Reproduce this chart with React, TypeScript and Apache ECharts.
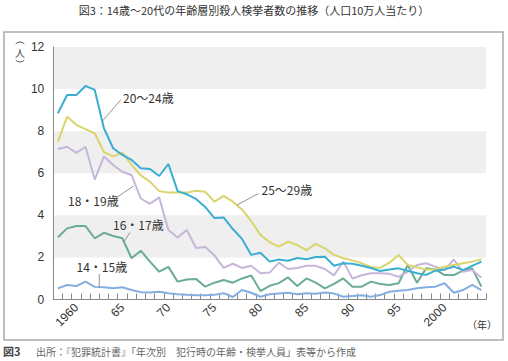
import React, { useEffect, useRef } from "react";
import * as echarts from "echarts";

const years: string[] = [];
for (let y = 1958; y <= 2004; y++) years.push(String(y));

const age20_24 = [8.85, 9.72, 9.72, 10.15, 9.96, 8.14, 7.19, 6.87, 6.63, 6.24, 6.2, 5.87, 6.44, 5.15, 5.0, 4.78, 4.4, 3.87, 3.9, 3.35, 2.88, 2.12, 2.22, 1.8, 1.9, 1.84, 1.97, 1.91, 2.02, 2.03, 1.6, 1.72, 1.7, 1.6, 1.5, 1.35, 1.43, 1.48, 1.37, 1.25, 1.17, 1.37, 1.43, 1.56, 1.4, 1.6, 1.8];
const age25_29 = [7.5, 8.69, 8.3, 8.1, 7.9, 7.0, 6.8, 6.98, 6.4, 5.9, 5.6, 5.15, 5.08, 5.08, 5.08, 5.17, 5.12, 4.65, 4.92, 4.65, 4.28, 3.72, 3.07, 2.72, 2.51, 2.75, 2.59, 2.35, 2.64, 2.43, 2.12, 1.96, 1.86, 1.72, 1.55, 1.5, 1.75, 2.12, 1.64, 1.53, 1.42, 1.43, 1.56, 1.64, 1.72, 1.8, 1.91];
const age18_19 = [7.15, 7.26, 6.97, 7.26, 5.7, 6.8, 6.39, 6.07, 5.92, 4.8, 4.55, 4.85, 3.3, 2.95, 3.3, 2.45, 2.5, 2.1, 1.5, 1.7, 1.5, 1.6, 1.25, 1.28, 1.75, 1.45, 1.5, 1.6, 1.6, 1.45, 1.15, 1.8, 1.0, 1.15, 1.25, 1.25, 1.22, 1.08, 1.32, 1.64, 1.72, 1.56, 1.4, 1.9, 1.32, 1.4, 1.05];
const age16_17 = [2.96, 3.38, 3.49, 3.49, 2.91, 3.17, 3.02, 2.91, 1.96, 2.32, 1.8, 1.32, 1.55, 0.85, 0.95, 0.98, 0.61, 0.8, 0.93, 0.8, 1.0, 1.14, 0.4, 0.65, 0.78, 1.05, 0.64, 1.0, 0.8, 0.53, 0.74, 1.0, 0.61, 0.61, 0.85, 0.74, 0.69, 0.77, 1.64, 0.8, 1.48, 1.43, 1.16, 1.16, 1.37, 1.48, 0.61];
const age14_15 = [0.53, 0.69, 0.64, 0.85, 0.6, 0.58, 0.53, 0.58, 0.45, 0.35, 0.33, 0.37, 0.3, 0.25, 0.22, 0.2, 0.2, 0.22, 0.3, 0.12, 0.45, 0.32, 0.13, 0.25, 0.29, 0.32, 0.25, 0.3, 0.27, 0.33, 0.28, 0.13, 0.17, 0.2, 0.13, 0.21, 0.37, 0.42, 0.45, 0.53, 0.58, 0.61, 0.77, 0.32, 0.45, 0.69, 0.45];

const seriesNames = ["20～24歳", "25～29歳", "18・19歳", "16・17歳", "14・15歳"];
const titleText = "図3：14歳～20代の年齢層別殺人検挙者数の推移（人口10万人当たり）";
const captionLead = "図3";
const captionText = "出所：『犯罪統計書』「年次別　犯行時の年齢・検挙人員」表等から作成";
const yUnit = "人";
const xUnit = "（年）";

const JP = "'Noto Sans CJK JP', 'Liberation Sans', sans-serif";
const NUM = "'Liberation Sans', 'Noto Sans CJK JP', sans-serif";

export default function App() {
  const ref = useRef<HTMLDivElement>(null);
  useEffect(() => {
    document.body.style.margin = "0";
    const chart = echarts.init(ref.current!, null, { renderer: "svg" });
    const colors = ["#3aaed2", "#d9d46c", "#c6b6d8", "#6aad90", "#84ade0"];
    const data = [age20_24, age25_29, age18_19, age16_17, age14_15];
    const lineStyle = { stroke: "#777", lineWidth: 0.8 };
    const label = (text: string, x: number, y: number) => ({
      type: "text",
      x,
      y,
      style: { text, fill: "#333", fontSize: 12, fontFamily: JP, textVerticalAlign: "middle" },
      z: 10,
    });
    const leader = (x1: number, y1: number, x2: number, y2: number) => ({
      type: "line",
      shape: { x1, y1, x2, y2 },
      style: lineStyle,
      z: 10,
    });
    chart.setOption({
      animation: false,
      backgroundColor: "#fff",
      grid: { left: 53.3, right: 22, top: 47, bottom: 61.5 },
      xAxis: {
        type: "category",
        data: years,
        boundaryGap: true,
        axisLine: { lineStyle: { color: "#888", width: 1 } },
        axisTick: { show: true, inside: true, length: 6, interval: 0, lineStyle: { color: "#888" } },
        axisLabel: {
          rotate: 45,
          interval: (_i: number, v: string) => Number(v) % 5 === 0,
          formatter: (v: string) => (v === "1960" || v === "2000" ? v : v.slice(2)),
          color: "#333",
          fontSize: 12,
          fontFamily: NUM,
          margin: 6,
        },
      },
      yAxis: {
        type: "value",
        min: 0,
        max: 12,
        interval: 2,
        axisLine: { show: true, lineStyle: { color: "#888", width: 1 } },
        axisTick: { show: false },
        splitLine: { show: false },
        splitArea: { show: true, areaStyle: { color: ["rgba(255,255,255,0)", "#efefef"] } },
        axisLabel: { color: "#333", fontSize: 12, fontFamily: NUM, margin: 9 },
      },
      series: data.map((d, i) => ({
        name: seriesNames[i],
        type: "line",
        data: d,
        symbol: "none",
        lineStyle: { color: colors[i], width: 2 },
        z: 5 - i,
      })),
      graphic: [
        {
          type: "rect",
          shape: { x: 4, y: 32, width: 499, height: 308 },
          style: { fill: "none", stroke: "#aaa", lineWidth: 1.5 },
          z: 0,
        },
        {
          type: "text",
          x: 254,
          y: 10,
          style: { text: titleText, fill: "#333", fontSize: 11, fontFamily: JP, textAlign: "center", textVerticalAlign: "middle" },
        },
        {
          type: "text",
          x: 3,
          y: 351,
          style: {
            text: "{a|" + captionLead + "}{b|" + captionText + "}",
            fontFamily: JP,
            textVerticalAlign: "middle",
            rich: {
              a: { fill: "#444", fontSize: 11, fontWeight: "bold", fontFamily: JP, width: 33 },
              b: { fill: "#666", fontSize: 10, fontFamily: JP },
            },
          },
        },
        {
          type: "arc",
          shape: { cx: 20, cy: 48, r: 6, startAngle: Math.PI * 1.25, endAngle: Math.PI * 1.75 },
          style: { stroke: "#444", lineWidth: 0.9, fill: "none" },
        },
        {
          type: "text",
          x: 20,
          y: 52,
          style: { text: yUnit, fill: "#444", fontSize: 10, fontFamily: JP, textAlign: "center", textVerticalAlign: "middle" },
        },
        {
          type: "arc",
          shape: { cx: 20, cy: 56, r: 6, startAngle: Math.PI * 0.25, endAngle: Math.PI * 0.75 },
          style: { stroke: "#444", lineWidth: 0.9, fill: "none" },
        },
        {
          type: "text",
          x: 482,
          y: 324,
          style: { text: xUnit, fill: "#333", fontSize: 10, fontFamily: JP, textAlign: "center", textVerticalAlign: "middle" },
        },
        label(seriesNames[0], 123, 97.5),
        leader(121, 99.5, 102.5, 121),
        label(seriesNames[1], 261.5, 189.5),
        leader(258.5, 193.5, 237, 205),
        label(seriesNames[2], 68, 200),
        leader(116, 198, 133.5, 186),
        label(seriesNames[3], 113, 224),
        leader(130, 232.5, 124, 241.5),
        label(seriesNames[4], 76.5, 266),
        leader(99.3, 274, 99.3, 287.5),
      ],
    });
    return () => chart.dispose();
  }, []);
  return <div ref={ref} style={{ width: 508, height: 361, position: "absolute", left: 0, top: 0 }} />;
}
